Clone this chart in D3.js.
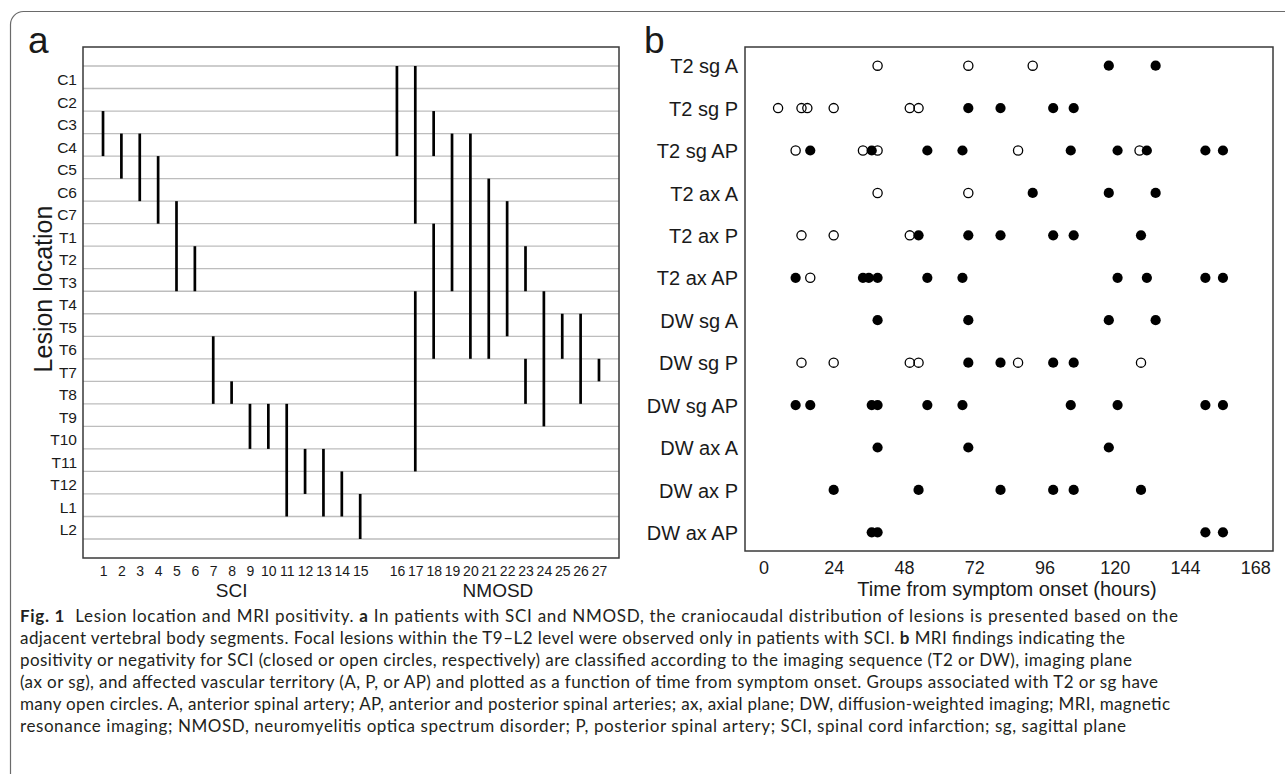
<!DOCTYPE html>
<html><head><meta charset="utf-8">
<script src="https://cdn.jsdelivr.net/npm/d3@7"></script>
<style>
html,body{margin:0;padding:0;background:#fff;}
svg text{font-family:"Liberation Sans",Arial,sans-serif;fill:#1a1a1a;}
svg text.cap{font-family:Lato,"Open Sans",sans-serif;fill:#231f20;}
</style></head>
<body>
<svg id="c" width="1285" height="774"></svg>
<script>
// ---------- Panel a data ----------
const levels = ["C1","C2","C3","C4","C5","C6","C7","T1","T2","T3","T4","T5","T6","T7","T8","T9","T10","T11","T12","L1","L2"];
const sciPatients = ["1","2","3","4","5","6","7","8","9","10","11","12","13","14","15"];
const nmosdPatients = ["16","17","18","19","20","21","22","23","24","25","26","27"];
const lesionPatient = ["1","2","3","4","5","6","7","8","9","10","11","12","13","14","15",
  "16","17","17","18","18","19","20","21","22","23","23","24","25","26","27"];
const lesionTop = ["C3","C4","C4","C5","C7","T2","T6","T8","T9","T9","T9","T11","T11","T12","L1",
  "C1","C1","T4","C3","T1","C4","C4","C6","C7","T2","T7","T4","T5","T5","T7"];
const lesionBottom = ["C4","C5","C6","C7","T3","T3","T8","T8","T10","T10","L1","T12","L1","L1","L2",
  "C4","C7","T11","C4","T6","T3","T6","T6","T5","T3","T8","T9","T6","T8","T7"];

// ---------- Panel b data ----------
const mriRows = ["T2 sg A","T2 sg P","T2 sg AP","T2 ax A","T2 ax P","T2 ax AP",
  "DW sg A","DW sg P","DW sg AP","DW ax A","DW ax P","DW ax AP"];
const rowHours = [
  [39,70,92,118,134],
  [5,13,15,24,50,53,70,81,99,106],
  [11,16,34,37,39,56,68,87,105,121,128.5,131,151,157],
  [39,70,92,118,134],
  [13,24,50,53,70,81,99,106,129],
  [11,16,34,36,39,56,68,121,131,151,157],
  [39,70,118,134],
  [13,24,50,53,70,81,87,99,106,129],
  [11,16,37,39,56,68,105,121,151,157],
  [39,70,118],
  [24,53,81,99,106,129],
  [37,39,151,157]
];
const rowPositive = [
  [0,0,0,1,1],
  [0,0,0,0,0,0,1,1,1,1],
  [0,1,0,1,0,1,1,0,1,1,0,1,1,1],
  [0,0,1,1,1],
  [0,0,0,1,1,1,1,1,1],
  [1,0,1,1,1,1,1,1,1,1,1],
  [1,1,1,1],
  [0,0,0,0,1,1,0,1,1,0],
  [1,1,1,1,1,1,1,1,1,1],
  [1,1,1],
  [1,1,1,1,1,1],
  [1,1,1,1]
];
const hourTicks = [0,24,48,72,96,120,144,168];

const captionLines = [
  [["b","Fig. 1"],["n","  Lesion location and MRI positivity. "],["b","a"],["n"," In patients with SCI and NMOSD, the craniocaudal distribution of lesions is presented based on the"]],
  [["n","adjacent vertebral body segments. Focal lesions within the T9–L2 level were observed only in patients with SCI. "],["b","b"],["n"," MRI findings indicating the"]],
  [["n","positivity or negativity for SCI (closed or open circles, respectively) are classified according to the imaging sequence (T2 or DW), imaging plane"]],
  [["n","(ax or sg), and affected vascular territory (A, P, or AP) and plotted as a function of time from symptom onset. Groups associated with T2 or sg have"]],
  [["n","many open circles. A, anterior spinal artery; AP, anterior and posterior spinal arteries; ax, axial plane; DW, diffusion-weighted imaging; MRI, magnetic"]],
  [["n","resonance imaging; NMOSD, neuromyelitis optica spectrum disorder; P, posterior spinal artery; SCI, spinal cord infarction; sg, sagittal plane"]]
];
const captionWidths = [1158,1105,1112,1138,1150,1106];

// ---------- Drawing ----------
const svg = d3.select("#c");

// outer figure border
svg.append("rect").attr("x",10.5).attr("y",11.5).attr("width",1300).attr("height",800)
  .attr("rx",13).attr("fill","none").attr("stroke","#6a6a6a").attr("stroke-width",1.2);

// ===== Panel a =====
const aL=83, aR=619, aT=47, aB=558;
const slots = sciPatients.concat([" "], nmosdPatients);
const xA = d3.scalePoint().domain(slots).range([aL,aR]).padding(1.09);
const yBound = d3.scaleLinear().domain([0, levels.length]).range([66, 539]);
const yLev = d3.scaleBand().domain(levels).range([66,539]).padding(0);

const gA = svg.append("g");
gA.selectAll("line.grid").data(d3.range(levels.length+1)).join("line")
  .attr("x1",aL).attr("x2",aR).attr("y1",d=>yBound(d)).attr("y2",d=>yBound(d))
  .attr("stroke","#bdbdbd").attr("stroke-width",1.3);
gA.append("rect").attr("x",aL).attr("y",aT).attr("width",aR-aL).attr("height",aB-aT)
  .attr("fill","none").attr("stroke","#3a3a3a").attr("stroke-width",1.5);
gA.selectAll("line.les").data(lesionPatient.map((p,i)=>({p, t:lesionTop[i], b:lesionBottom[i]}))).join("line")
  .attr("x1",d=>xA(d.p)).attr("x2",d=>xA(d.p))
  .attr("y1",d=>yLev(d.t)).attr("y2",d=>yLev(d.b)+yLev.bandwidth())
  .attr("stroke","#000").attr("stroke-width",2.7);
const axA = gA.append("g").attr("transform",`translate(${aL},0)`)
  .call(d3.axisLeft(yLev).tickSize(0).tickPadding(6));
axA.select(".domain").remove();
axA.selectAll("text").attr("font-size",15.5).attr("dy","0.5em").style("font-family","Liberation Sans, Arial, sans-serif").attr("fill","#1a1a1a");
const axAx = gA.append("g").attr("transform",`translate(0,${aB})`)
  .call(d3.axisBottom(xA).tickSize(0).tickPadding(8).tickFormat(d=>d.trim()));
axAx.select(".domain").remove();
axAx.selectAll("text").attr("font-size",14).style("font-family","Liberation Sans, Arial, sans-serif").attr("fill","#1a1a1a");
gA.append("text").attr("x",d3.mean(sciPatients,p=>xA(p))).attr("y",597).attr("text-anchor","middle").attr("font-size",19).text("SCI");
gA.append("text").attr("x",d3.mean(nmosdPatients,p=>xA(p))).attr("y",597).attr("text-anchor","middle").attr("font-size",19).text("NMOSD");
gA.append("text").attr("transform",`translate(52,289) rotate(-90)`).attr("text-anchor","middle").attr("font-size",25).text("Lesion location");
gA.append("text").attr("x",28).attr("y",53).attr("font-size",37).text("a");

// ===== Panel b =====
const bL=745, bR=1273, bT=47, bB=551;
const xB = d3.scaleLinear().domain([-6.3,174.1]).range([bL,bR]);
const yB = d3.scalePoint().domain(mriRows).range([bT,bB]).padding(0.44);
const gB = svg.append("g");
gB.append("rect").attr("x",bL).attr("y",bT).attr("width",bR-bL).attr("height",bB-bT)
  .attr("fill","none").attr("stroke","#3a3a3a").attr("stroke-width",1.5);
const pts = [];
mriRows.forEach((r,i)=>rowHours[i].forEach((h,j)=>pts.push({r,h,pos:rowPositive[i][j]})));
gB.selectAll("circle.neg").data(pts.filter(d=>!d.pos)).join("circle")
  .attr("cx",d=>xB(d.h)).attr("cy",d=>yB(d.r)).attr("r",4.6)
  .attr("fill","none").attr("stroke","#000").attr("stroke-width",1.3);
gB.selectAll("circle.pos").data(pts.filter(d=>d.pos)).join("circle")
  .attr("cx",d=>xB(d.h)).attr("cy",d=>yB(d.r)).attr("r",5.1).attr("fill","#000");
const axB = gB.append("g").attr("transform",`translate(${bL},0)`)
  .call(d3.axisLeft(yB).tickSize(0).tickPadding(7));
axB.select(".domain").remove();
axB.selectAll("text").attr("font-size",20).attr("dy","0.36em").style("font-family","Liberation Sans, Arial, sans-serif").attr("fill","#1a1a1a");
const axBx = gB.append("g").attr("transform",`translate(0,${bB})`)
  .call(d3.axisBottom(xB).tickValues(hourTicks).tickSize(0).tickPadding(10));
axBx.select(".domain").remove();
axBx.selectAll("text").attr("font-size",18).style("font-family","Liberation Sans, Arial, sans-serif").attr("fill","#1a1a1a");
gB.append("text").attr("x",(bL+bR)/2-2).attr("y",596).attr("text-anchor","middle").attr("font-size",20).text("Time from symptom onset (hours)");
gB.append("text").attr("x",644).attr("y",53).attr("font-size",37).text("b");

// ===== Caption =====
const gC = svg.append("g");
captionLines.forEach((line,i)=>{
  const t = gC.append("text").attr("class","cap").attr("x",20).attr("y",622+i*22)
    .attr("font-size",17).attr("textLength",captionWidths[i]).attr("lengthAdjust","spacing")
    .attr("xml:space","preserve").style("white-space","pre");
  line.forEach(([k,s])=>{
    t.append("tspan").attr("font-weight",k==="b"?"bold":"normal").text(s);
  });
});
</script>
</body></html>
